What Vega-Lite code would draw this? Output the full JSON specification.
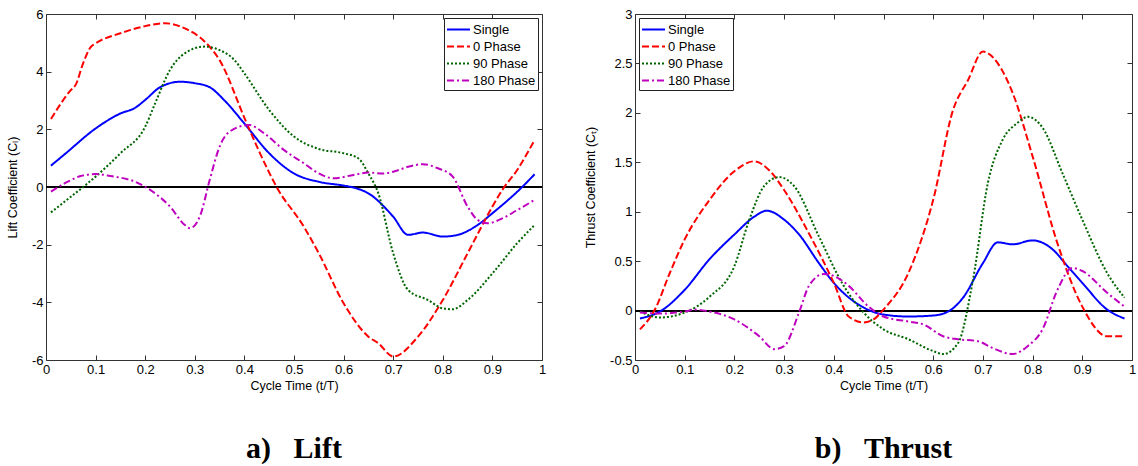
{
  "$schema": "https://vega.github.io/schema/vega-lite/v6.json",
  "background": "white",
  "padding": {"left": 5, "top": 7, "right": 0, "bottom": 0},
  "spacing": 93,
  "bounds": "flush",
  "config": {
    "locale": {"number": {"decimal": ".", "thousands": ",", "grouping": [3], "currency": ["$", ""], "minus": "-"}},
    "view": {"stroke": "#333", "strokeWidth": 1},
    "axis": {
      "domain": false, "grid": false, "tickSize": -5, "tickColor": "#333",
      "labelFont": "Liberation Sans", "labelFontSize": 13, "labelColor": "#000",
      "titleFont": "Liberation Sans", "titleFontSize": 12.5, "titleFontWeight": "normal", "titleColor": "#000",
      "labelPadding": 8, "labelFlush": false, "format": "~g"
    },
    "axisY": {"titlePadding": 12},
    "axisX": {"titlePadding": 3},
    "legend": {
      "fillColor": "white", "strokeColor": "#222", "padding": 2, "offset": 4,
      "symbolType": "M-1.4,0H1.4", "symbolSize": 270, "symbolStrokeWidth": 2, "symbolOffset": 3,
      "labelFont": "Liberation Sans", "labelFontSize": 13, "labelColor": "#000",
      "rowPadding": 0, "labelOffset": 5
    },
    "title": {"font": "Liberation Serif", "fontSize": 30, "fontWeight": "bold", "color": "#000"}
  },
  "datasets": {
    "lift": [
      {"s": "Single", "t": 0.01, "v": 0.74}, {"s": "Single", "t": 0.04, "v": 1.17}, {"s": "Single", "t": 0.1, "v": 2.03},
      {"s": "Single", "t": 0.15, "v": 2.55}, {"s": "Single", "t": 0.18, "v": 2.75}, {"s": "Single", "t": 0.2, "v": 3.02},
      {"s": "Single", "t": 0.23, "v": 3.46}, {"s": "Single", "t": 0.27, "v": 3.65}, {"s": "Single", "t": 0.3, "v": 3.6},
      {"s": "Single", "t": 0.33, "v": 3.46}, {"s": "Single", "t": 0.36, "v": 3.0}, {"s": "Single", "t": 0.4, "v": 2.2},
      {"s": "Single", "t": 0.45, "v": 1.17}, {"s": "Single", "t": 0.5, "v": 0.47}, {"s": "Single", "t": 0.55, "v": 0.18},
      {"s": "Single", "t": 0.6, "v": 0.05}, {"s": "Single", "t": 0.62, "v": -0.02}, {"s": "Single", "t": 0.65, "v": -0.22},
      {"s": "Single", "t": 0.7, "v": -1.03}, {"s": "Single", "t": 0.73, "v": -1.66}, {"s": "Single", "t": 0.76, "v": -1.58},
      {"s": "Single", "t": 0.8, "v": -1.72}, {"s": "Single", "t": 0.83, "v": -1.66}, {"s": "Single", "t": 0.87, "v": -1.32},
      {"s": "Single", "t": 0.9, "v": -0.91}, {"s": "Single", "t": 0.96, "v": 0.0}, {"s": "Single", "t": 0.985, "v": 0.44},

      {"s": "0 Phase", "t": 0.01, "v": 2.36}, {"s": "0 Phase", "t": 0.05, "v": 3.36}, {"s": "0 Phase", "t": 0.06, "v": 3.55},
      {"s": "0 Phase", "t": 0.075, "v": 4.3}, {"s": "0 Phase", "t": 0.09, "v": 4.85}, {"s": "0 Phase", "t": 0.1, "v": 4.98},
      {"s": "0 Phase", "t": 0.15, "v": 5.33}, {"s": "0 Phase", "t": 0.2, "v": 5.58}, {"s": "0 Phase", "t": 0.24, "v": 5.68},
      {"s": "0 Phase", "t": 0.28, "v": 5.5}, {"s": "0 Phase", "t": 0.32, "v": 5.04}, {"s": "0 Phase", "t": 0.35, "v": 4.4},
      {"s": "0 Phase", "t": 0.4, "v": 2.4}, {"s": "0 Phase", "t": 0.41, "v": 2.0}, {"s": "0 Phase", "t": 0.45, "v": 0.5},
      {"s": "0 Phase", "t": 0.465, "v": 0.0}, {"s": "0 Phase", "t": 0.52, "v": -1.38}, {"s": "0 Phase", "t": 0.55, "v": -2.3},
      {"s": "0 Phase", "t": 0.6, "v": -4.03}, {"s": "0 Phase", "t": 0.65, "v": -5.19}, {"s": "0 Phase", "t": 0.67, "v": -5.42},
      {"s": "0 Phase", "t": 0.7, "v": -5.88}, {"s": "0 Phase", "t": 0.75, "v": -5.19}, {"s": "0 Phase", "t": 0.8, "v": -3.92},
      {"s": "0 Phase", "t": 0.85, "v": -2.3}, {"s": "0 Phase", "t": 0.9, "v": -0.68}, {"s": "0 Phase", "t": 0.92, "v": -0.1},
      {"s": "0 Phase", "t": 0.95, "v": 0.59}, {"s": "0 Phase", "t": 0.985, "v": 1.63},

      {"s": "90 Phase", "t": 0.01, "v": -0.88}, {"s": "90 Phase", "t": 0.05, "v": -0.34}, {"s": "90 Phase", "t": 0.08, "v": 0.07},
      {"s": "90 Phase", "t": 0.1, "v": 0.36}, {"s": "90 Phase", "t": 0.15, "v": 1.17}, {"s": "90 Phase", "t": 0.2, "v": 2.09},
      {"s": "90 Phase", "t": 0.22, "v": 2.9}, {"s": "90 Phase", "t": 0.25, "v": 4.06}, {"s": "90 Phase", "t": 0.28, "v": 4.64},
      {"s": "90 Phase", "t": 0.32, "v": 4.87}, {"s": "90 Phase", "t": 0.35, "v": 4.75}, {"s": "90 Phase", "t": 0.38, "v": 4.4},
      {"s": "90 Phase", "t": 0.4, "v": 3.94}, {"s": "90 Phase", "t": 0.45, "v": 2.67}, {"s": "90 Phase", "t": 0.5, "v": 1.75},
      {"s": "90 Phase", "t": 0.55, "v": 1.32}, {"s": "90 Phase", "t": 0.6, "v": 1.17}, {"s": "90 Phase", "t": 0.63, "v": 0.99},
      {"s": "90 Phase", "t": 0.65, "v": 0.47}, {"s": "90 Phase", "t": 0.67, "v": -0.22}, {"s": "90 Phase", "t": 0.7, "v": -2.3},
      {"s": "90 Phase", "t": 0.73, "v": -3.57}, {"s": "90 Phase", "t": 0.77, "v": -3.92}, {"s": "90 Phase", "t": 0.8, "v": -4.21},
      {"s": "90 Phase", "t": 0.82, "v": -4.24}, {"s": "90 Phase", "t": 0.85, "v": -3.92}, {"s": "90 Phase", "t": 0.9, "v": -3.0},
      {"s": "90 Phase", "t": 0.95, "v": -1.95}, {"s": "90 Phase", "t": 0.985, "v": -1.32},

      {"s": "180 Phase", "t": 0.01, "v": -0.16}, {"s": "180 Phase", "t": 0.04, "v": 0.15}, {"s": "180 Phase", "t": 0.07, "v": 0.38},
      {"s": "180 Phase", "t": 0.1, "v": 0.45}, {"s": "180 Phase", "t": 0.13, "v": 0.38}, {"s": "180 Phase", "t": 0.18, "v": 0.18},
      {"s": "180 Phase", "t": 0.21, "v": -0.1}, {"s": "180 Phase", "t": 0.25, "v": -0.68}, {"s": "180 Phase", "t": 0.28, "v": -1.32},
      {"s": "180 Phase", "t": 0.29, "v": -1.43}, {"s": "180 Phase", "t": 0.31, "v": -1.03}, {"s": "180 Phase", "t": 0.33, "v": 0.24},
      {"s": "180 Phase", "t": 0.35, "v": 1.4}, {"s": "180 Phase", "t": 0.37, "v": 1.92}, {"s": "180 Phase", "t": 0.41, "v": 2.15},
      {"s": "180 Phase", "t": 0.44, "v": 1.86}, {"s": "180 Phase", "t": 0.48, "v": 1.28}, {"s": "180 Phase", "t": 0.52, "v": 0.82},
      {"s": "180 Phase", "t": 0.55, "v": 0.47}, {"s": "180 Phase", "t": 0.58, "v": 0.3}, {"s": "180 Phase", "t": 0.62, "v": 0.42},
      {"s": "180 Phase", "t": 0.65, "v": 0.5}, {"s": "180 Phase", "t": 0.68, "v": 0.47}, {"s": "180 Phase", "t": 0.7, "v": 0.53},
      {"s": "180 Phase", "t": 0.73, "v": 0.7}, {"s": "180 Phase", "t": 0.76, "v": 0.79}, {"s": "180 Phase", "t": 0.79, "v": 0.65},
      {"s": "180 Phase", "t": 0.82, "v": 0.36}, {"s": "180 Phase", "t": 0.85, "v": -0.68}, {"s": "180 Phase", "t": 0.87, "v": -1.14},
      {"s": "180 Phase", "t": 0.89, "v": -1.26}, {"s": "180 Phase", "t": 0.92, "v": -1.09}, {"s": "180 Phase", "t": 0.95, "v": -0.8},
      {"s": "180 Phase", "t": 0.985, "v": -0.45}
    ],
    "thrust": [
      {"s": "Single", "t": 0.01, "v": -0.08}, {"s": "Single", "t": 0.05, "v": -0.01}, {"s": "Single", "t": 0.1, "v": 0.21},
      {"s": "Single", "t": 0.15, "v": 0.52}, {"s": "Single", "t": 0.2, "v": 0.77}, {"s": "Single", "t": 0.24, "v": 0.95},
      {"s": "Single", "t": 0.265, "v": 1.01}, {"s": "Single", "t": 0.3, "v": 0.92}, {"s": "Single", "t": 0.33, "v": 0.77},
      {"s": "Single", "t": 0.37, "v": 0.48}, {"s": "Single", "t": 0.4, "v": 0.28}, {"s": "Single", "t": 0.45, "v": 0.06},
      {"s": "Single", "t": 0.5, "v": -0.04}, {"s": "Single", "t": 0.55, "v": -0.06}, {"s": "Single", "t": 0.6, "v": -0.05},
      {"s": "Single", "t": 0.63, "v": -0.01}, {"s": "Single", "t": 0.66, "v": 0.13}, {"s": "Single", "t": 0.7, "v": 0.48},
      {"s": "Single", "t": 0.73, "v": 0.69}, {"s": "Single", "t": 0.76, "v": 0.67}, {"s": "Single", "t": 0.8, "v": 0.71},
      {"s": "Single", "t": 0.84, "v": 0.62}, {"s": "Single", "t": 0.87, "v": 0.45}, {"s": "Single", "t": 0.9, "v": 0.28},
      {"s": "Single", "t": 0.95, "v": 0.01}, {"s": "Single", "t": 0.985, "v": -0.08},

      {"s": "0 Phase", "t": 0.01, "v": -0.19}, {"s": "0 Phase", "t": 0.04, "v": 0.01}, {"s": "0 Phase", "t": 0.07, "v": 0.38},
      {"s": "0 Phase", "t": 0.1, "v": 0.72}, {"s": "0 Phase", "t": 0.15, "v": 1.12}, {"s": "0 Phase", "t": 0.2, "v": 1.41},
      {"s": "0 Phase", "t": 0.24, "v": 1.51}, {"s": "0 Phase", "t": 0.27, "v": 1.42}, {"s": "0 Phase", "t": 0.3, "v": 1.22},
      {"s": "0 Phase", "t": 0.35, "v": 0.78}, {"s": "0 Phase", "t": 0.4, "v": 0.28}, {"s": "0 Phase", "t": 0.43, "v": -0.06},
      {"s": "0 Phase", "t": 0.46, "v": -0.12}, {"s": "0 Phase", "t": 0.48, "v": -0.09}, {"s": "0 Phase", "t": 0.5, "v": 0.01},
      {"s": "0 Phase", "t": 0.55, "v": 0.38}, {"s": "0 Phase", "t": 0.6, "v": 1.12}, {"s": "0 Phase", "t": 0.64, "v": 2.03},
      {"s": "0 Phase", "t": 0.67, "v": 2.33}, {"s": "0 Phase", "t": 0.7, "v": 2.62}, {"s": "0 Phase", "t": 0.73, "v": 2.5},
      {"s": "0 Phase", "t": 0.76, "v": 2.2}, {"s": "0 Phase", "t": 0.8, "v": 1.56}, {"s": "0 Phase", "t": 0.85, "v": 0.68},
      {"s": "0 Phase", "t": 0.9, "v": 0.04}, {"s": "0 Phase", "t": 0.95, "v": -0.26}, {"s": "0 Phase", "t": 0.985, "v": -0.26},

      {"s": "90 Phase", "t": 0.01, "v": -0.01}, {"s": "90 Phase", "t": 0.05, "v": -0.07}, {"s": "90 Phase", "t": 0.1, "v": -0.02},
      {"s": "90 Phase", "t": 0.15, "v": 0.14}, {"s": "90 Phase", "t": 0.2, "v": 0.45}, {"s": "90 Phase", "t": 0.23, "v": 0.92},
      {"s": "90 Phase", "t": 0.26, "v": 1.26}, {"s": "90 Phase", "t": 0.29, "v": 1.35}, {"s": "90 Phase", "t": 0.32, "v": 1.26},
      {"s": "90 Phase", "t": 0.37, "v": 0.75}, {"s": "90 Phase", "t": 0.42, "v": 0.25}, {"s": "90 Phase", "t": 0.46, "v": -0.02},
      {"s": "90 Phase", "t": 0.5, "v": -0.19}, {"s": "90 Phase", "t": 0.55, "v": -0.29}, {"s": "90 Phase", "t": 0.6, "v": -0.41},
      {"s": "90 Phase", "t": 0.62, "v": -0.44}, {"s": "90 Phase", "t": 0.65, "v": -0.33}, {"s": "90 Phase", "t": 0.68, "v": 0.31},
      {"s": "90 Phase", "t": 0.71, "v": 1.29}, {"s": "90 Phase", "t": 0.74, "v": 1.73}, {"s": "90 Phase", "t": 0.77, "v": 1.9},
      {"s": "90 Phase", "t": 0.79, "v": 1.96}, {"s": "90 Phase", "t": 0.82, "v": 1.85}, {"s": "90 Phase", "t": 0.86, "v": 1.39},
      {"s": "90 Phase", "t": 0.9, "v": 0.92}, {"s": "90 Phase", "t": 0.95, "v": 0.38}, {"s": "90 Phase", "t": 0.985, "v": 0.13},

      {"s": "180 Phase", "t": 0.01, "v": -0.02}, {"s": "180 Phase", "t": 0.05, "v": -0.03}, {"s": "180 Phase", "t": 0.1, "v": -0.01},
      {"s": "180 Phase", "t": 0.12, "v": 0.01}, {"s": "180 Phase", "t": 0.15, "v": -0.01}, {"s": "180 Phase", "t": 0.2, "v": -0.09},
      {"s": "180 Phase", "t": 0.25, "v": -0.26}, {"s": "180 Phase", "t": 0.28, "v": -0.39}, {"s": "180 Phase", "t": 0.3, "v": -0.36},
      {"s": "180 Phase", "t": 0.33, "v": -0.02}, {"s": "180 Phase", "t": 0.35, "v": 0.25}, {"s": "180 Phase", "t": 0.38, "v": 0.37},
      {"s": "180 Phase", "t": 0.4, "v": 0.35}, {"s": "180 Phase", "t": 0.43, "v": 0.25}, {"s": "180 Phase", "t": 0.47, "v": 0.04},
      {"s": "180 Phase", "t": 0.5, "v": -0.06}, {"s": "180 Phase", "t": 0.55, "v": -0.11}, {"s": "180 Phase", "t": 0.58, "v": -0.14},
      {"s": "180 Phase", "t": 0.62, "v": -0.26}, {"s": "180 Phase", "t": 0.65, "v": -0.29}, {"s": "180 Phase", "t": 0.69, "v": -0.31},
      {"s": "180 Phase", "t": 0.72, "v": -0.38}, {"s": "180 Phase", "t": 0.76, "v": -0.44}, {"s": "180 Phase", "t": 0.79, "v": -0.36},
      {"s": "180 Phase", "t": 0.82, "v": -0.19}, {"s": "180 Phase", "t": 0.85, "v": 0.21}, {"s": "180 Phase", "t": 0.88, "v": 0.43},
      {"s": "180 Phase", "t": 0.9, "v": 0.4}, {"s": "180 Phase", "t": 0.95, "v": 0.18}, {"s": "180 Phase", "t": 0.985, "v": 0.04}
    ]
  },
  "hconcat": [
    {
      "width": 496, "height": 346,
      "data": {"name": "lift"},
      "title": {"text": "a)\u00a0\u00a0\u00a0Lift", "orient": "bottom", "offset": 42},
      "resolve": {"axis": {"x": "independent", "y": "independent"}},
      "layer": [
        {
          "mark": {"type": "rule", "color": "#000", "strokeWidth": 1},
          "encoding": {"y": {"datum": 0, "type": "quantitative", "scale": {"domain": [-6, 6], "nice": false}, "axis": {"values": [-6, -4, -2, 0, 2, 4, 6], "title": "Lift Coefficient (Cₗ)", "orient": "left"}}}
        },
        {
          "mark": {"type": "line", "strokeWidth": 2, "interpolate": "monotone"},
          "encoding": {
            "x": {"field": "t", "type": "quantitative", "scale": {"domain": [0, 1], "nice": false}, "axis": {"values": [0, 0.1, 0.2, 0.3, 0.4, 0.5, 0.6, 0.7, 0.8, 0.9, 1], "title": "Cycle Time (t/T)", "orient": "bottom"}},
            "y": {"field": "v", "type": "quantitative", "axis": null},
            "color": {"field": "s", "type": "nominal", "scale": {"domain": ["Single", "0 Phase", "90 Phase", "180 Phase"], "range": ["#0000FF", "#FF0000", "#006400", "#BF00BF"]}, "legend": {"title": null, "orient": "top-right"}},
            "strokeDash": {"field": "s", "type": "nominal", "scale": {"domain": ["Single", "0 Phase", "90 Phase", "180 Phase"], "range": [[1, 0], [7, 3], [2, 2], [7, 3, 2, 3]]}, "legend": {"title": null, "orient": "top-right"}}
          }
        },
        {
          "mark": {"type": "point", "opacity": 0},
          "encoding": {
            "x": {"field": "t", "type": "quantitative", "axis": {"values": [0, 0.1, 0.2, 0.3, 0.4, 0.5, 0.6, 0.7, 0.8, 0.9, 1], "labels": false, "title": null, "orient": "top"}},
            "y": {"field": "v", "type": "quantitative", "axis": {"values": [-6, -4, -2, 0, 2, 4, 6], "labels": false, "title": null, "orient": "right"}}
          }
        }
      ]
    },
    {
      "width": 497, "height": 346,
      "data": {"name": "thrust"},
      "title": {"text": "b)\u00a0\u00a0\u00a0Thrust", "orient": "bottom", "offset": 42},
      "resolve": {"axis": {"x": "independent", "y": "independent"}},
      "layer": [
        {
          "mark": {"type": "rule", "color": "#000", "strokeWidth": 1},
          "encoding": {"y": {"datum": 0, "type": "quantitative", "scale": {"domain": [-0.5, 3], "nice": false}, "axis": {"values": [-0.5, 0, 0.5, 1, 1.5, 2, 2.5, 3], "title": "Thrust Coefficient (Cₜ)", "orient": "left"}}}
        },
        {
          "mark": {"type": "line", "strokeWidth": 2, "interpolate": "monotone"},
          "encoding": {
            "x": {"field": "t", "type": "quantitative", "scale": {"domain": [0, 1], "nice": false}, "axis": {"values": [0, 0.1, 0.2, 0.3, 0.4, 0.5, 0.6, 0.7, 0.8, 0.9, 1], "title": "Cycle Time (t/T)", "orient": "bottom"}},
            "y": {"field": "v", "type": "quantitative", "axis": null},
            "color": {"field": "s", "type": "nominal", "scale": {"domain": ["Single", "0 Phase", "90 Phase", "180 Phase"], "range": ["#0000FF", "#FF0000", "#006400", "#BF00BF"]}, "legend": {"title": null, "orient": "top-left"}},
            "strokeDash": {"field": "s", "type": "nominal", "scale": {"domain": ["Single", "0 Phase", "90 Phase", "180 Phase"], "range": [[1, 0], [7, 3], [2, 2], [7, 3, 2, 3]]}, "legend": {"title": null, "orient": "top-left"}}
          }
        },
        {
          "mark": {"type": "point", "opacity": 0},
          "encoding": {
            "x": {"field": "t", "type": "quantitative", "axis": {"values": [0, 0.1, 0.2, 0.3, 0.4, 0.5, 0.6, 0.7, 0.8, 0.9, 1], "labels": false, "title": null, "orient": "top"}},
            "y": {"field": "v", "type": "quantitative", "axis": {"values": [-0.5, 0, 0.5, 1, 1.5, 2, 2.5, 3], "labels": false, "title": null, "orient": "right"}}
          }
        }
      ]
    }
  ],
  "resolve": {"scale": {"color": "independent", "strokeDash": "independent"}}
}
